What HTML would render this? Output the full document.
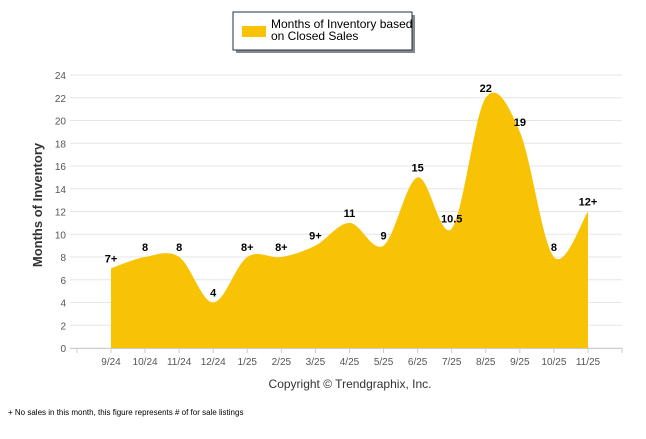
<!DOCTYPE html>
<html><head><meta charset="utf-8"><style>
body{margin:0;background:#fff;width:646px;height:434px;overflow:hidden;font-family:"Liberation Sans",sans-serif;}
</style></head><body>
<svg id="chart" width="646" height="434" xmlns="http://www.w3.org/2000/svg" font-family="Liberation Sans, sans-serif">
<g>
<rect x="236" y="15" width="179" height="38" fill="#888"/>
<rect x="233" y="12" width="179" height="38" fill="#fff" stroke="#1c2f50" stroke-width="1"/>
<rect x="242" y="26" width="24" height="11" fill="#f7c304"/>
<text x="271" y="28" font-size="12" fill="#000">Months of Inventory based</text>
<text x="271" y="40" font-size="12" fill="#000">on Closed Sales</text>
</g>
<g id="grid"></g>
<g id="area"></g>
<g id="axes"></g>
<text transform="translate(42,205) rotate(-90)" text-anchor="middle" font-size="13" font-weight="bold" fill="#333">Months of Inventory</text>
<text x="350" y="388" text-anchor="middle" font-size="12" fill="#333">Copyright © Trendgraphix, Inc.</text>
<text x="8" y="415" font-size="8" fill="#000">+  No sales in this month, this figure represents # of for sale listings</text>
</svg>
<script>
const categories=["9/24","10/24","11/24","12/24","1/25","2/25","3/25","4/25","5/25","6/25","7/25","8/25","9/25","10/25","11/25"];
const values=[7,8,8,4,8,8,9,11,9,15,10.5,22,19,8,12];
const pointLabels=["7+","8","8","4","8+","8+","9+","11","9","15","10.5","22","19","8","12+"];
const yTicks=[0,2,4,6,8,10,12,14,16,18,20,22,24];
const NS="http://www.w3.org/2000/svg";
const x0=111,step=34.07,yBase=348,pxPer=11.375;
const X=i=>x0+step*i, Y=v=>yBase-v*pxPer;
function mk(t,a,p){const e=document.createElementNS(NS,t);for(const k in a)e.setAttribute(k,a[k]);p.appendChild(e);return e;}
const grid=document.getElementById('grid'),axes=document.getElementById('axes'),area=document.getElementById('area');
yTicks.forEach(t=>{
 const l=mk('line',{x1:70,x2:622,y1:Y(t),y2:Y(t),stroke:'#e6e6e6','stroke-width':1},grid);
 
 
 const tx=mk('text',{x:66,y:Y(t)+4,'text-anchor':'end','font-size':10,fill:'#555'},axes);
 tx.textContent=t;
 
 
});
mk('line',{x1:70,x2:622,y1:yBase+0.5,y2:yBase+0.5,stroke:'#ccc'},axes);
for(let i=-1;i<=categories.length;i++){mk('line',{x1:X(i),x2:X(i),y1:yBase,y2:yBase+5,stroke:'#ccc'},axes);}
categories.forEach((c,i)=>{
 const t=mk('text',{x:X(i),y:365,'text-anchor':'middle','font-size':10,fill:'#555'},axes);
 t.textContent=c;
 
 
});
const pts=values.map((v,i)=>[X(i),Y(v)]);
let d=`M${pts[0][0]},${yBase} L${pts[0][0]},${pts[0][1]}`;
for(let i=0;i<pts.length-1;i++){
 const p0=pts[Math.max(i-1,0)],p1=pts[i],p2=pts[i+1],p3=pts[Math.min(i+2,pts.length-1)];
 const c1=[p1[0]+(p2[0]-p0[0])/6,p1[1]+(p2[1]-p0[1])/6],c2=[p2[0]-(p3[0]-p1[0])/6,p2[1]-(p3[1]-p1[1])/6];
 d+=` C${c1[0]},${c1[1]} ${c2[0]},${c2[1]} ${p2[0]},${p2[1]}`;
}
d+=` L${pts[pts.length-1][0]},${yBase} Z`;
const path=mk('path',{d:d,fill:'#f7c304'},area);


values.forEach((v,i)=>{
 const t=mk('text',{x:X(i),y:Y(v)-6,'text-anchor':'middle','font-size':11,'font-weight':'bold',fill:'#000'},area);
 t.textContent=pointLabels[i];
 
 
});
</script>
</body></html>
